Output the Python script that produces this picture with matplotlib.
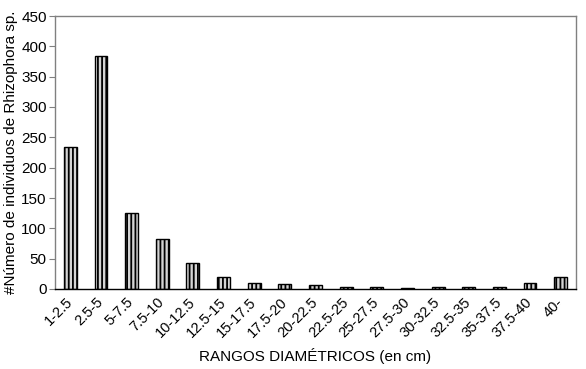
import matplotlib.pyplot as plt

plt.rcParams['font.family'] = ['Liberation Sans', 'DejaVu Sans']

rangos = ['1-2.5', '2.5-5', '5-7.5', '7.5-10', '10-12.5', '12.5-15', '15-17.5',
          '17.5-20', '20-22.5', '22.5-25', '25-27.5', '27.5-30', '30-32.5',
          '32.5-35', '35-37.5', '37.5-40', '40-']
individuos = [234, 384, 126, 83, 43, 20, 10, 8, 6, 4, 3, 1, 3, 3, 4, 10, 20]

fig = plt.figure(figsize=(5.86, 3.69), dpi=100)
ax = fig.add_axes([55 / 586, 80 / 369, 521 / 586, 273 / 369])

x = range(len(rangos))
plt.rcParams['hatch.linewidth'] = 1.3
ax.bar(x, individuos, width=0.42, color='#d4d4d4', edgecolor='black',
       hatch='||||', linewidth=1.0)

ax.set_xlim(-0.5, len(rangos) - 0.5)
ax.set_ylim(0, 450)
ax.set_yticks(range(0, 451, 50))
ax.tick_params(axis='y', labelsize=11, length=4, color='#808080', pad=2)
ax.tick_params(axis='x', length=0, pad=8)
ax.set_xticks(list(x))
ax.set_xticklabels(rangos, rotation=45, ha='right', va='center',
                   rotation_mode='anchor', fontsize=10.5)
for s in ax.spines.values():
    s.set_color('#808080')
    s.set_linewidth(1.0)
ax.spines['bottom'].set_color('black')

ax.set_ylabel('#Número de individuos de Rhizophora sp.', fontsize=11, labelpad=2)
ax.set_xlabel('RANGOS DIAMÉTRICOS (en cm)', fontsize=11, labelpad=6)

plt.savefig('out.png', dpi=100)
